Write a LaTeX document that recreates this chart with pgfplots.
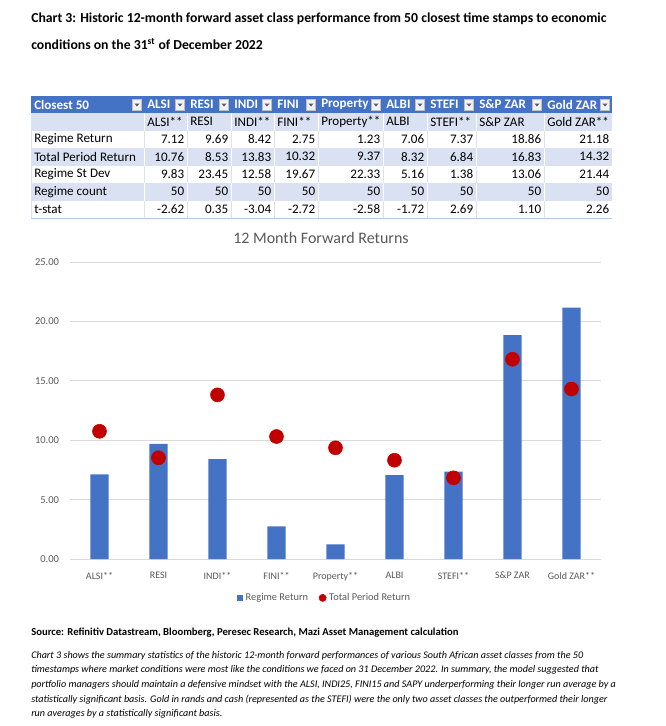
\documentclass[border=0pt]{standalone}
\usepackage{pgfplots}
\pgfplotsset{compat=1.18}
\usepackage{fontspec}
\setmainfont{Carlito}
\definecolor{barblue}{HTML}{4472C4}
\definecolor{dotred}{HTML}{C00000}
\definecolor{lightrow}{HTML}{D9E1F2}
\definecolor{gridgray}{HTML}{D9D9D9}
\definecolor{txtgray}{HTML}{595959}
\definecolor{sepblue}{HTML}{B4C6E7}

\begin{document}
\begin{tikzpicture}[x=0.75pt,y=-0.75pt]
\path[use as bounding box] (0,0) rectangle (666,726);

% heading
\node[anchor=west,inner sep=0pt,font=\fontsize{10.3}{12}\selectfont\bfseries] at (31,19)
  {Chart 3: Historic 12-month forward asset class performance from 50 closest time stamps to economic};
\node[anchor=west,inner sep=0pt,font=\fontsize{10.3}{12}\selectfont\bfseries] at (31,44)
  {conditions on the 31\textsuperscript{st} of December 2022};

% table
\fill[barblue] (31,96) rectangle (612,113);
\fill[lightrow] (31,113) rectangle (612,130.5);
\fill[lightrow] (31,148) rectangle (612,165.5);
\fill[lightrow] (31,183) rectangle (612,200.5);
\foreach \x in {144,187,231,274,318,383,427,476,544} {
  \draw[white,line width=0.75pt] (\x,113) -- (\x,130.5);
  \draw[white,line width=0.75pt] (\x,148) -- (\x,165.5);
  \draw[white,line width=0.75pt] (\x,183) -- (\x,200.5);
  \draw[lightrow,line width=0.75pt] (\x,130.5) -- (\x,148);
  \draw[lightrow,line width=0.75pt] (\x,165.5) -- (\x,183);
  \draw[lightrow,line width=0.75pt] (\x,200.5) -- (\x,218);
}
\draw[sepblue,line width=0.75pt] (31,218) -- (612,218);
\draw[lightrow,line width=0.75pt] (31,113) -- (31,218);

\begin{scope}[font=\fontsize{9.8}{11}\selectfont]
\foreach \l/\r/\h/\s in {31/144/Closest 50/{},144/187/ALSI/ALSI**,187/231/RESI/RESI,
    231/274/INDI/INDI**,274/318/FINI/FINI**,318/383/Property/Property**,383/427/ALBI/ALBI,
    427/476/STEFI/STEFI**,476/544/S\&P ZAR/S\&P ZAR,544/612/Gold ZAR/Gold ZAR**} {
  \node[anchor=west,inner sep=0pt,text=white,font=\fontsize{9.8}{11}\selectfont\bfseries] at (\l+3,104.5) {\h};
  \node[anchor=west,inner sep=0pt] at (\l+3,121.75) {\s};
  \filldraw[fill=black!5,draw=black!25,line width=0.4pt] (\r-11.5,99.5) rectangle (\r-2.5,110);
  \fill[black!65] (\r-9.5,103.5) -- (\r-4.5,103.5) -- (\r-7,106.5) -- cycle;
}
\node[anchor=west,inner sep=0pt] at (34,139.25) {Regime Return};
\node[anchor=west,inner sep=0pt] at (34,156.75) {Total Period Return};
\node[anchor=west,inner sep=0pt] at (34,174.25) {Regime St Dev};
\node[anchor=west,inner sep=0pt] at (34,191.75) {Regime count};
\node[anchor=west,inner sep=0pt] at (34,209.25) {t-stat};
\foreach \r/\v in {187/7.12,231/9.69,274/8.42,318/2.75,383/1.23,427/7.06,476/7.37,544/18.86,612/21.18}
  \node[anchor=east,inner sep=0pt] at (\r-2.5,139.25) {\v};
\foreach \r/\v in {187/10.76,231/8.53,274/13.83,318/10.32,383/9.37,427/8.32,476/6.84,544/16.83,612/14.32}
  \node[anchor=east,inner sep=0pt] at (\r-2.5,156.75) {\v};
\foreach \r/\v in {187/9.83,231/23.45,274/12.58,318/19.67,383/22.33,427/5.16,476/1.38,544/13.06,612/21.44}
  \node[anchor=east,inner sep=0pt] at (\r-2.5,174.25) {\v};
\foreach \r in {187,231,274,318,383,427,476,544,612}
  \node[anchor=east,inner sep=0pt] at (\r-2.5,191.75) {50};
\foreach \r/\v in {187/-2.62,231/0.35,274/-3.04,318/-2.72,383/-2.58,427/-1.72,476/2.69,544/1.10,612/2.26}
  \node[anchor=east,inner sep=0pt] at (\r-2.5,209.25) {\v};
\end{scope}

% chart title
\node[text=txtgray,font=\fontsize{12}{14}\selectfont] at (321,238) {12 Month Forward Returns};

\begin{axis}[
  at={(52.5pt,-419.25pt)}, anchor=south west, scale only axis,
  width=398.25pt, height=222.56pt,
  xmin=-0.5, xmax=8.5, ymin=0, ymax=25,
  ytick={0,5,...,25}, xtick={0,...,8},
  xticklabels={ALSI**,RESI,INDI**,FINI**,Property**,ALBI,STEFI**,S\&P ZAR,Gold ZAR**},
  ymajorgrids, grid style={gridgray,line width=0.75pt},
  axis line style={draw=none}, major tick length=0pt,
  tick label style={font=\fontsize{7.5}{8}\selectfont,text=txtgray},
  yticklabel style={inner sep=0pt,xshift=-8pt,font=\fontsize{7.9}{9}\selectfont,
    /pgf/number format/.cd,fixed,fixed zerofill,precision=2,assume math mode=true},
  xticklabel style={inner sep=0pt,yshift=-9.5pt},
  legend style={at={(0.48,-0.131)},anchor=center,draw=none,fill=none,
    legend columns=-1,font=\fontsize{7.8}{9}\selectfont,text=txtgray,
    /tikz/every even column/.append style={column sep=6pt}},
  clip=false,
]
\addplot[ybar,bar width=13.8pt,fill=barblue,draw=none,
  legend image code/.code={\fill[barblue] (0pt,-2.4pt) rectangle (4.6pt,2.4pt);}]
  coordinates {(0,7.12) (1,9.69) (2,8.42) (3,2.75) (4,1.23) (5,7.06) (6,7.37) (7,18.86) (8,21.18)};
\addlegendentry{Regime Return}
\addplot[only marks,mark=*,mark size=5.25pt,color=dotred,
  legend image code/.code={\fill[dotred] (2.5pt,0pt) circle (2.7pt);}]
  coordinates {(0,10.76) (1,8.53) (2,13.83) (3,10.32) (4,9.37) (5,8.32) (6,6.84) (7,16.83) (8,14.32)};
\addlegendentry{Total Period Return}
\end{axis}

% source and comment
\node[anchor=west,inner sep=0pt,font=\fontsize{8}{9}\selectfont\bfseries] at (31,633)
  {Source: Refinitiv Datastream, Bloomberg, Peresec Research, Mazi Asset Management calculation};
\node[anchor=north west,inner sep=0pt,align=left,font=\fontsize{7.6}{11}\selectfont\itshape] at (31,651)
  {Chart 3 shows the summary statistics of the historic 12-month forward performances of various South African asset classes from the 50\\
   timestamps where market conditions were most like the conditions we faced on 31 December 2022. In summary, the model suggested that\\
   portfolio managers should maintain a defensive mindset with the ALSI, INDI25, FINI15 and SAPY underperforming their longer run average by a\\
   statistically significant basis. Gold in rands and cash (represented as the STEFI) were the only two asset classes the outperformed their longer\\
   run averages by a statistically significant basis.};
\end{tikzpicture}
\end{document}
